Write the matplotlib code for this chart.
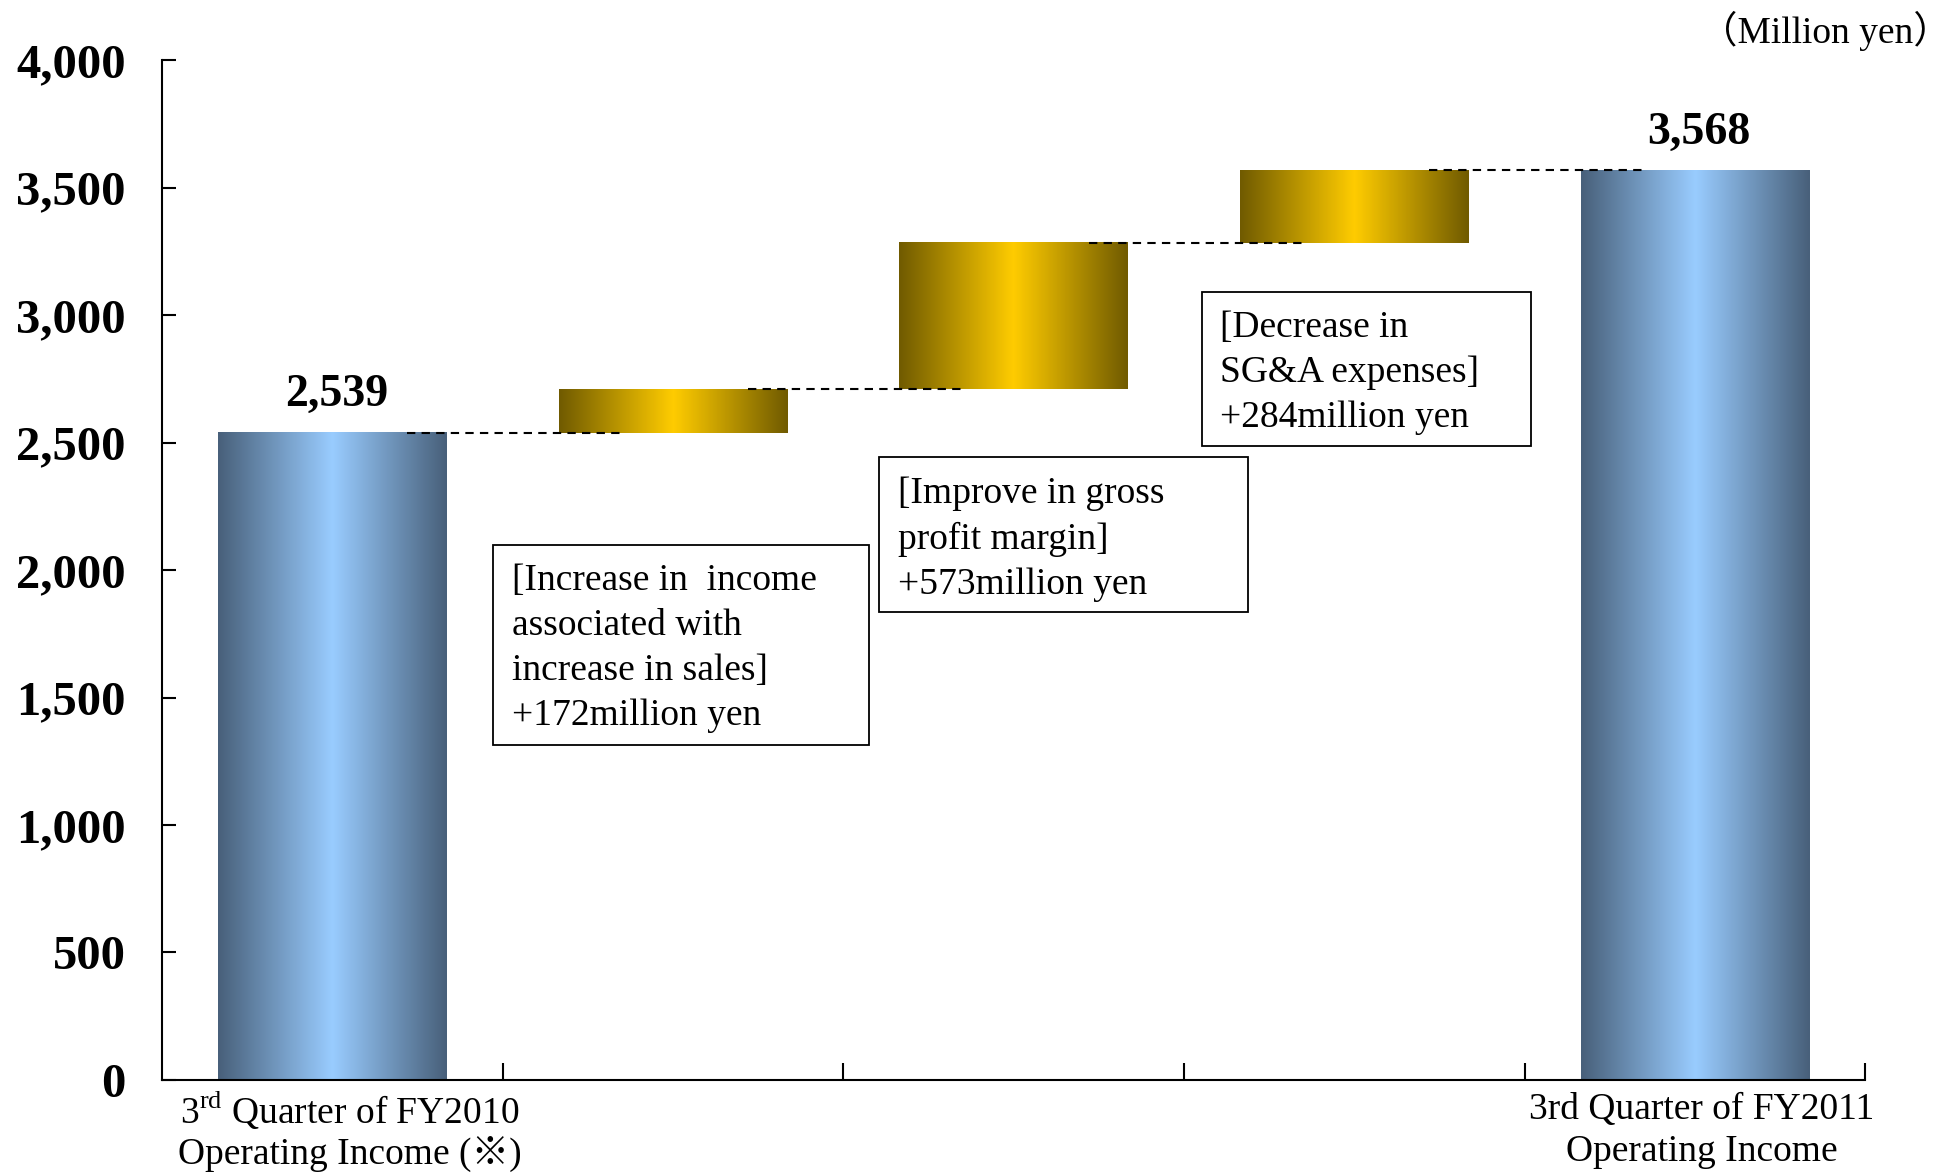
import numpy as np
import matplotlib
matplotlib.use('Agg')
import matplotlib.pyplot as plt
from matplotlib.colors import LinearSegmentedColormap
from matplotlib.patches import Rectangle
import matplotlib.transforms as mtransforms

plt.rcParams['font.family'] = ['Liberation Serif', 'Noto Sans CJK JP', 'DejaVu Sans']
plt.rcParams['mathtext.fontset'] = 'custom'
plt.rcParams['mathtext.rm'] = 'Liberation Serif'

# data
start_value = 2539
changes = [172, 573, 284]
end_value = 3568
end_labels = [r'3$^{\mathrm{rd}}$ Quarter of FY2010' + '\nOperating Income (※)',
              '3rd Quarter of FY2011\nOperating Income']
change_notes = ['[Increase in  income\nassociated with\nincrease in sales]\n+172million yen',
                '[Improve in gross\nprofit margin]\n+573million yen',
                '[Decrease in\nSG&A expenses]\n+284million yen']
yticks = [0, 500, 1000, 1500, 2000, 2500, 3000, 3500, 4000]

# waterfall geometry from the data
levels = np.concatenate([[start_value], start_value + np.cumsum(changes)])
x = np.arange(len(changes) + 2)
bottoms = np.concatenate([[0], levels[:-1], [0]])
heights = np.concatenate([[start_value], changes, [end_value]])

blue = LinearSegmentedColormap.from_list('blue', ['#48607a', '#99ccff', '#48607a'])
gold = LinearSegmentedColormap.from_list('gold', ['#705a00', '#ffcc00', '#705a00'])
grad = np.linspace(0, 1, 256).reshape(1, -1)

fig = plt.figure(figsize=(19.52, 11.73), dpi=100)
ax = fig.add_axes([0.083, 0.0793, 0.8725, 0.8695])

bars = ax.bar(x, heights, bottom=bottoms, width=0.67, color='none', edgecolor='none')
for i, b in enumerate(bars):
    cm = blue if i in (0, len(bars) - 1) else gold
    ax.imshow(grad, cmap=cm, aspect='auto', zorder=2,
              extent=[b.get_x(), b.get_x() + b.get_width(), b.get_y(), b.get_y() + b.get_height()])

# dashed connectors
for i, lv in enumerate(levels):
    ax.hlines(lv, x[i] + 0.22, x[i] + 0.86, colors='black', linewidth=1.5,
              linestyles=(0, (4, 3)), zorder=3)

ax.set_xlim(-0.5, 4.5)
ax.set_ylim(0, 4000)

# value labels
for xi, v in [(x[0], start_value), (x[-1], end_value)]:
    ax.annotate(f'{v:,}', (xi, v), xytext=(3, 12), textcoords='offset points',
                ha='center', va='bottom', fontsize=33, fontweight='bold')

# note boxes (x0, x1, y0, y1 in data units)
boxes = [(0.472, 1.576, 1314, 2100), (1.605, 2.687, 1836, 2442), (2.552, 3.520, 2486, 3092)]
for (x0, x1, y0, y1), note in zip(boxes, change_notes):
    ax.add_patch(Rectangle((x0, y0), x1 - x0, y1 - y0, fill=False, edgecolor='black',
                           linewidth=1.3, zorder=4))
    ax.text(x0 + 0.055, y1 - 74, note, ha='left', va='top', fontsize=27,
            linespacing=1.40, zorder=5)

# axes styling
ax.set_xticks([0.5, 1.5, 2.5, 3.5, 4.5])
ax.set_xticklabels([])
ax.set_yticks(yticks)
ax.set_yticklabels([f'{t:,}' for t in yticks], fontsize=35, fontweight='bold')
ax.tick_params(axis='y', direction='in', length=10, width=1.5, pad=26)
ax.tick_params(axis='x', direction='in', length=12, width=1.5)
for s in ['top', 'right']:
    ax.spines[s].set_visible(False)
for s in ['left', 'bottom']:
    ax.spines[s].set_linewidth(1.5)

trans = mtransforms.blended_transform_factory(ax.transData, ax.transAxes)
for xi, lab, off, ls in zip([x[0] + 0.05, x[-1] + 0.02], end_labels, [-6, -9], [1.15, 1.3]):
    ax.annotate(lab, (xi, 0), xycoords=trans, xytext=(0, off), textcoords='offset points',
                ha='center', va='top', fontsize=27, linespacing=ls)

fig.text(0.9995, 0.974, '（Million yen）', ha='right', va='center', fontsize=27)

plt.savefig('out.png', dpi=100)
